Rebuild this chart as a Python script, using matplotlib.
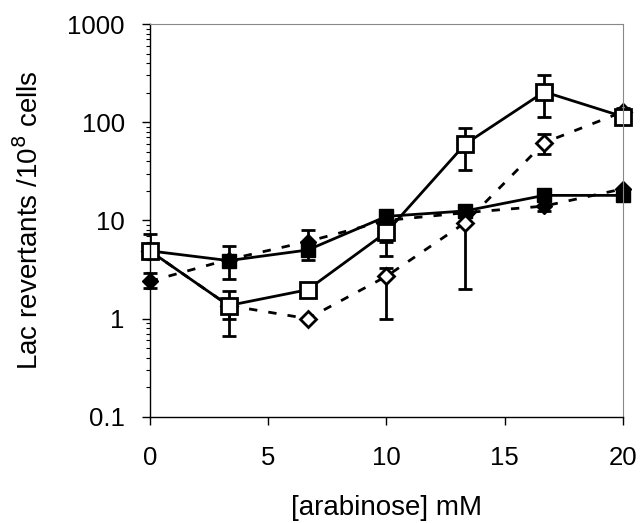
import matplotlib.pyplot as plt
from matplotlib.ticker import LogLocator, FixedLocator, NullFormatter

plt.rcParams['font.family'] = ['Liberation Sans', 'DejaVu Sans']

# arabinose concentration (mM)
arabinose = [0, 3.33, 6.67, 10, 13.33, 16.67, 20]

# open squares, solid line
open_sq = [4.9, 1.36, 1.97, 7.6, 60, 204, 114]
open_sq_lo = [4.9, 0.66, 1.97, 6.0, 33, 113, 114]
open_sq_hi = [7.2, 1.93, 1.97, 7.6, 88, 302, 114]

# open diamonds, dashed line
open_di = [4.9, 1.36, 1.0, 2.7, 9.5, 62, 128]
open_di_lo = [4.9, 1.0, 1.0, 1.0, 2.0, 47, 128]
open_di_hi = [4.9, 1.36, 1.0, 3.3, 9.5, 76, 140]

# filled squares, solid line
fill_sq = [4.9, 3.9, 5.0, 11, 12.5, 18, 18]
fill_sq_lo = [4.9, 2.55, 5.0, 11, 12.5, 18, 18]
fill_sq_hi = [4.9, 5.5, 5.0, 11, 12.5, 18, 18]

# filled diamonds, dashed line
fill_di = [2.4, 4.0, 6.1, 10, 12, 14, 21]
fill_di_lo = [2.07, 4.0, 4.0, 4.3, 12, 12.5, 21]
fill_di_hi = [2.9, 4.0, 8.0, 10, 12, 14, 21]


def err(vals, lo, hi):
    return [[v - l for v, l in zip(vals, lo)], [h - v for v, h in zip(vals, hi)]]


fig = plt.figure(figsize=(6.43, 5.23), dpi=100)
ax = fig.add_axes([0.233, 0.203, 0.736, 0.751])

ekw = dict(ecolor='black', elinewidth=2, capsize=5, capthick=2, color='black', lw=2)

ax.errorbar(arabinose, fill_di, yerr=err(fill_di, fill_di_lo, fill_di_hi), marker='D', ms=8,
            mfc='black', mec='black', ls=(0, (3, 4)), **ekw)
ax.errorbar(arabinose, fill_sq, yerr=err(fill_sq, fill_sq_lo, fill_sq_hi), marker='s', ms=10,
            mfc='black', mec='black', ls='-', **ekw)
ax.errorbar(arabinose, open_di, yerr=err(open_di, open_di_lo, open_di_hi), marker='D', ms=8,
            mfc='white', mec='black', mew=2, ls=(0, (3, 4)), **ekw)
ax.errorbar(arabinose, open_sq, yerr=err(open_sq, open_sq_lo, open_sq_hi), marker='s', ms=11,
            mfc='white', mec='black', mew=2, ls='-', **ekw)

ax.set_yscale('log')
ax.set_ylim(0.1, 1000)
ax.set_xlim(0, 20)
ax.xaxis.set_major_locator(FixedLocator([0, 5, 10, 15, 20]))
ax.yaxis.set_major_locator(FixedLocator([0.1, 1, 10, 100, 1000]))
ax.set_yticklabels(['0.1', '1', '10', '100', '1000'])
ax.yaxis.set_minor_locator(LogLocator(base=10, subs=range(2, 10)))
ax.yaxis.set_minor_formatter(NullFormatter())

ax.tick_params(axis='both', which='major', direction='out', length=6, width=1,
               labelsize=18.5)
ax.tick_params(axis='x', which='major', pad=15)
ax.tick_params(axis='y', which='major', pad=12)
ax.tick_params(axis='y', which='minor', direction='out', length=3, width=0.8)

ax.spines['top'].set_color('#888888')
ax.spines['right'].set_color('#888888')
ax.spines['top'].set_linewidth(0.8)
ax.spines['right'].set_linewidth(0.8)
ax.spines['left'].set_linewidth(1.0)
ax.spines['bottom'].set_linewidth(1.0)

ax.set_xlabel('[arabinose] mM', fontsize=20, labelpad=18)
ax.set_ylabel('Lac revertants /10$^8$ cells', fontsize=20, labelpad=17)

for a in ax.lines:
    a.set_clip_on(False)

fig.savefig('out.png', dpi=100)
